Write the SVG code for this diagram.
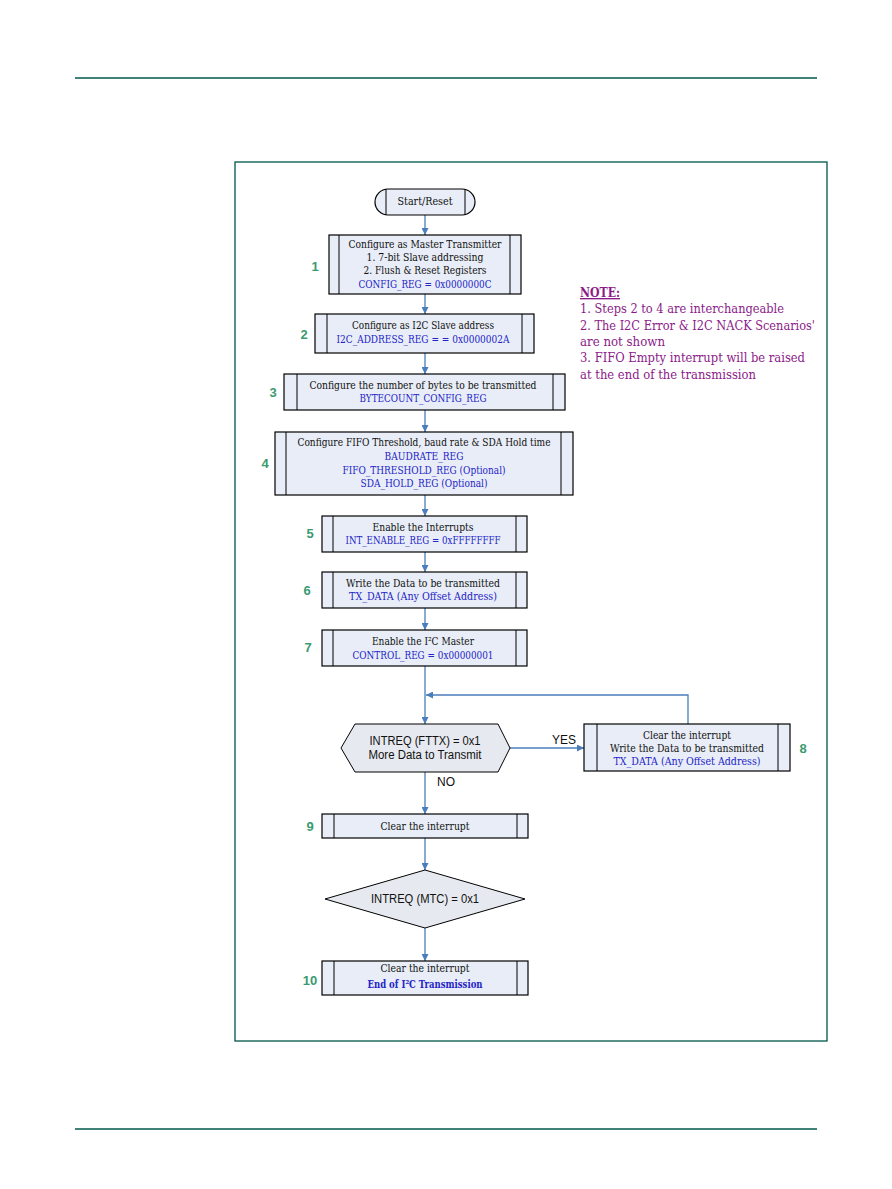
<svg xmlns="http://www.w3.org/2000/svg" width="892" height="1189" viewBox="0 0 892 1189">
<defs>
<style>
.bx{fill:#e8edf7;stroke:#000;stroke-width:1.2}
.in{stroke:#000;stroke-width:1}
.t{font-family:"DejaVu Serif","Liberation Serif",serif;font-size:10.5px;fill:#111;text-anchor:middle}
.b{font-family:"DejaVu Serif","Liberation Serif",serif;font-size:10.5px;fill:#2424c8;text-anchor:middle}
.n{font-family:"Liberation Sans",Arial,sans-serif;font-size:13px;font-weight:bold;fill:#3a9a70;text-anchor:middle}
.s{font-family:"Liberation Sans",Arial,sans-serif;font-size:12px;fill:#111;text-anchor:middle}
.dec{fill:#e6e9ef;stroke:#000;stroke-width:1}
.note{font-family:"DejaVu Serif","Liberation Serif",serif;font-size:13.5px;fill:#8b1a89}
.c{fill:none;stroke:#4a7ebb;stroke-width:1.3}
.fr{fill:none;stroke:#00574b}
</style>
<marker id="ah" viewBox="0 0 10 10" refX="10" refY="5" markerWidth="7" markerHeight="7" markerUnits="userSpaceOnUse" orient="auto">
<path d="M0,0 L10,5 L0,10 z" fill="#4a7ebb"/>
</marker>
</defs>
<rect width="892" height="1189" fill="#fff"/>
<line class="fr" x1="75" y1="78" x2="817" y2="78" stroke-width="1.6"/>
<line class="fr" x1="75" y1="1129" x2="817" y2="1129" stroke-width="1.6"/>
<rect class="fr" x="235" y="162" width="592" height="879" stroke-width="1.3"/>

<g id="connectors">
<line class="c" x1="425" y1="215" x2="425" y2="235" marker-end="url(#ah)"/>
<line class="c" x1="425" y1="294" x2="425" y2="314" marker-end="url(#ah)"/>
<line class="c" x1="425" y1="353" x2="425" y2="374" marker-end="url(#ah)"/>
<line class="c" x1="425" y1="410" x2="425" y2="432" marker-end="url(#ah)"/>
<line class="c" x1="425" y1="495" x2="425" y2="516" marker-end="url(#ah)"/>
<line class="c" x1="425" y1="552" x2="425" y2="572" marker-end="url(#ah)"/>
<line class="c" x1="425" y1="608" x2="425" y2="630" marker-end="url(#ah)"/>
<line class="c" x1="425" y1="666" x2="425" y2="724" marker-end="url(#ah)"/>
<line class="c" x1="510" y1="748" x2="584" y2="748" marker-end="url(#ah)"/>
<polyline class="c" points="688,724 688,695 426,695" marker-end="url(#ah)"/>
<line class="c" x1="425" y1="772" x2="425" y2="814" marker-end="url(#ah)"/>
<line class="c" x1="425" y1="838" x2="425" y2="870" marker-end="url(#ah)"/>
<line class="c" x1="425" y1="928" x2="425" y2="961" marker-end="url(#ah)"/>
<text class="s" x="564" y="744">YES</text>
<text class="s" x="446" y="786">NO</text>
</g>

<g id="start">
<path class="bx" d="M388,189 H462 A13,13 0 0 1 462,215 H388 A13,13 0 0 1 388,189 Z"/>
<line class="in" x1="386" y1="189" x2="386" y2="215"/>
<line class="in" x1="465" y1="189" x2="465" y2="215"/>
<text class="t" x="425" y="205" textLength="55" lengthAdjust="spacingAndGlyphs">Start/Reset</text>
</g>

<g id="step1">
<rect class="bx" x="329" y="235" width="192" height="59"/>
<line class="in" x1="339" y1="235" x2="339" y2="294"/>
<line class="in" x1="510" y1="235" x2="510" y2="294"/>
<text class="t" x="425" y="248" textLength="153" lengthAdjust="spacingAndGlyphs">Configure as Master Transmitter</text>
<text class="t" x="425" y="261" textLength="117" lengthAdjust="spacingAndGlyphs">1. 7-bit Slave addressing</text>
<text class="t" x="425" y="274" font-size="9.5" textLength="123" lengthAdjust="spacingAndGlyphs">2. Flush &amp; Reset Registers</text>
<text class="b" x="425" y="288" textLength="133" lengthAdjust="spacingAndGlyphs">CONFIG_REG = 0x0000000C</text>
<text class="n" x="315" y="271">1</text>
</g>

<g id="step2">
<rect class="bx" x="315" y="314" width="219" height="39"/>
<line class="in" x1="327" y1="314" x2="327" y2="353"/>
<line class="in" x1="522" y1="314" x2="522" y2="353"/>
<text class="t" x="423" y="329" font-size="9.5" textLength="142" lengthAdjust="spacingAndGlyphs">Configure as I2C Slave address</text>
<text class="b" x="423" y="343" textLength="173" lengthAdjust="spacingAndGlyphs">I2C_ADDRESS_REG =  = 0x0000002A</text>
<text class="n" x="304" y="339">2</text>
</g>

<g id="step3">
<rect class="bx" x="284" y="374" width="281" height="36"/>
<line class="in" x1="297" y1="374" x2="297" y2="410"/>
<line class="in" x1="553" y1="374" x2="553" y2="410"/>
<text class="t" x="423" y="389" textLength="227" lengthAdjust="spacingAndGlyphs">Configure the number of bytes to be transmitted</text>
<text class="b" x="423" y="402" textLength="127" lengthAdjust="spacingAndGlyphs">BYTECOUNT_CONFIG_REG</text>
<text class="n" x="273" y="397">3</text>
</g>

<g id="step4">
<rect class="bx" x="275" y="432" width="298" height="63"/>
<line class="in" x1="286" y1="432" x2="286" y2="495"/>
<line class="in" x1="561" y1="432" x2="561" y2="495"/>
<text class="t" x="424" y="446" textLength="253" lengthAdjust="spacingAndGlyphs">Configure FIFO Threshold, baud rate &amp; SDA Hold time</text>
<text class="b" x="424" y="460" textLength="79" lengthAdjust="spacingAndGlyphs">BAUDRATE_REG</text>
<text class="b" x="424" y="474" textLength="163" lengthAdjust="spacingAndGlyphs">FIFO_THRESHOLD_REG (Optional)</text>
<text class="b" x="424" y="487" textLength="127" lengthAdjust="spacingAndGlyphs">SDA_HOLD_REG (Optional)</text>
<text class="n" x="265" y="468">4</text>
</g>

<g id="step5">
<rect class="bx" x="322" y="516" width="205" height="36"/>
<line class="in" x1="333" y1="516" x2="333" y2="552"/>
<line class="in" x1="516" y1="516" x2="516" y2="552"/>
<text class="t" x="423" y="531" textLength="101" lengthAdjust="spacingAndGlyphs">Enable the Interrupts</text>
<text class="b" x="423" y="544" textLength="155" lengthAdjust="spacingAndGlyphs">INT_ENABLE_REG = 0xFFFFFFFF</text>
<text class="n" x="310" y="538">5</text>
</g>

<g id="step6">
<rect class="bx" x="322" y="572" width="205" height="36"/>
<line class="in" x1="333" y1="572" x2="333" y2="608"/>
<line class="in" x1="516" y1="572" x2="516" y2="608"/>
<text class="t" x="423" y="587" textLength="154" lengthAdjust="spacingAndGlyphs">Write the Data to be transmitted</text>
<text class="b" x="423" y="600" textLength="148" lengthAdjust="spacingAndGlyphs">TX_DATA (Any Offset Address)</text>
<text class="n" x="307" y="595">6</text>
</g>

<g id="step7">
<rect class="bx" x="322" y="630" width="205" height="36"/>
<line class="in" x1="333" y1="630" x2="333" y2="666"/>
<line class="in" x1="516" y1="630" x2="516" y2="666"/>
<text class="t" x="423" y="645" textLength="102" lengthAdjust="spacingAndGlyphs">Enable the I²C Master</text>
<text class="b" x="423" y="659" textLength="141" lengthAdjust="spacingAndGlyphs">CONTROL_REG = 0x00000001</text>
<text class="n" x="308" y="652">7</text>
</g>

<g id="decision1">
<polygon class="dec" points="355,724 498,724 510,748 498,772 355,772 341,748"/>
<text class="s" x="425" y="745" textLength="111" lengthAdjust="spacingAndGlyphs">INTREQ (FTTX) = 0x1</text>
<text class="s" x="425" y="759" textLength="113" lengthAdjust="spacingAndGlyphs">More Data to Transmit</text>
</g>

<g id="step8">
<rect class="bx" x="584" y="724" width="206" height="47"/>
<line class="in" x1="597" y1="724" x2="597" y2="771"/>
<line class="in" x1="778" y1="724" x2="778" y2="771"/>
<text class="t" x="687" y="739" textLength="88" lengthAdjust="spacingAndGlyphs">Clear the interrupt</text>
<text class="t" x="687" y="752" textLength="154" lengthAdjust="spacingAndGlyphs">Write the Data to be transmitted</text>
<text class="b" x="687" y="765" textLength="147" lengthAdjust="spacingAndGlyphs">TX_DATA (Any Offset Address)</text>
<text class="n" x="803" y="753">8</text>
</g>

<g id="step9">
<rect class="bx" x="322" y="814" width="206" height="24"/>
<line class="in" x1="334" y1="814" x2="334" y2="838"/>
<line class="in" x1="517" y1="814" x2="517" y2="838"/>
<text class="t" x="425" y="830" textLength="89" lengthAdjust="spacingAndGlyphs">Clear the interrupt</text>
<text class="n" x="310" y="831">9</text>
</g>

<g id="decision2">
<polygon class="dec" points="425,870 525,899 425,928 325,899"/>
<text class="s" x="425" y="903" textLength="108" lengthAdjust="spacingAndGlyphs">INTREQ (MTC) = 0x1</text>
</g>

<g id="step10">
<rect class="bx" x="322" y="961" width="206" height="34"/>
<line class="in" x1="334" y1="961" x2="334" y2="995"/>
<line class="in" x1="517" y1="961" x2="517" y2="995"/>
<text class="t" x="425" y="972" textLength="89" lengthAdjust="spacingAndGlyphs">Clear the interrupt</text>
<text class="b" x="425" y="988" font-size="9.5" font-weight="bold" textLength="115" lengthAdjust="spacingAndGlyphs">End of I²C Transmission</text>
<text class="n" x="310" y="985">10</text>
</g>

<g id="note">
<text class="note" x="580" y="297" font-weight="bold" text-decoration="underline" textLength="40" lengthAdjust="spacingAndGlyphs">NOTE:</text>
<text class="note" x="580" y="313" textLength="204" lengthAdjust="spacingAndGlyphs">1. Steps 2 to 4 are interchangeable</text>
<text class="note" x="580" y="330" textLength="235" lengthAdjust="spacingAndGlyphs">2. The I2C Error &amp; I2C NACK Scenarios'</text>
<text class="note" x="580" y="346" textLength="85" lengthAdjust="spacingAndGlyphs">are not shown</text>
<text class="note" x="580" y="362" textLength="225" lengthAdjust="spacingAndGlyphs">3. FIFO Empty interrupt will be raised</text>
<text class="note" x="580" y="379" textLength="176" lengthAdjust="spacingAndGlyphs">at the end of the transmission</text>
</g>
</svg>
